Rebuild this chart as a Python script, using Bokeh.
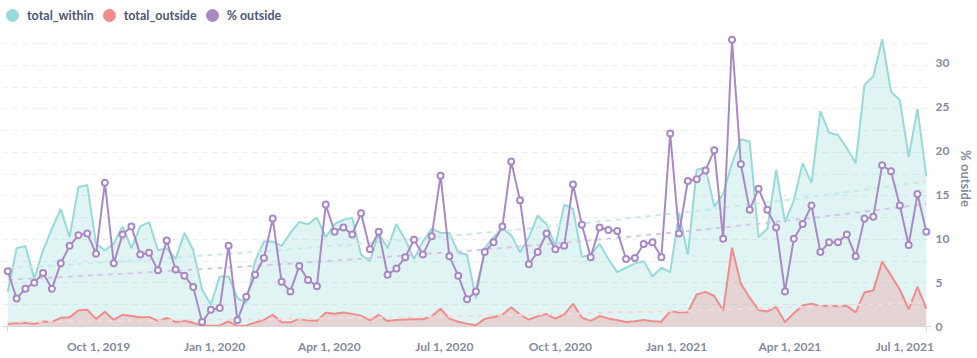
import numpy as np
import pandas as pd
from bokeh.plotting import figure
from bokeh.layouts import column
from bokeh.models import Range1d, LinearAxis, FixedTicker, Grid, Legend, LegendItem
from bokeh.embed import file_html
from bokeh.resources import INLINE

# ---------------- data ----------------
first_week = "2019-07-21"
n_weeks = 105
weeks = pd.date_range(first_week, periods=n_weeks, freq="7D")

total_within = [
    16, 36, 37, 22, 35, 45, 54, 41, 64, 65,
    38, 35, 38, 46, 36, 46, 48, 35, 36, 31,
    43, 35, 17, 10, 23, 23, 13, 11, 30, 39,
    39, 37, 43, 48, 47, 50, 41, 47, 49, 50,
    33, 30, 43, 36, 47, 40, 31, 39, 45, 43,
    43, 34, 33, 13, 36, 41, 45, 42, 34, 41,
    51, 47, 37, 56, 54, 32, 33, 38, 31, 25,
    27, 29, 30, 23, 27, 25, 52, 33, 72, 73,
    55, 61, 75, 86, 85, 41, 45, 72, 48, 58,
    75, 66, 99, 89, 88, 82, 75, 111, 115, 132,
    108, 104, 78, 100, 69,
]
total_outside = [
    1.3, 1.5, 1.7, 1.2, 2.3, 2.1, 4.0, 4.2, 7.5, 7.7,
    3.5, 6.8, 3.0, 5.4, 4.8, 4.2, 4.4, 2.6, 3.9, 2.1,
    2.6, 1.7, 0.3, 0.3, 0.5, 2.4, 0.1, 0.5, 1.8, 3.0,
    5.4, 2.1, 1.9, 3.5, 2.7, 2.6, 6.3, 5.9, 6.4, 5.8,
    5.0, 2.8, 5.3, 2.5, 3.0, 3.2, 3.3, 3.3, 4.7, 8.2,
    3.6, 2.2, 1.3, 0.6, 3.5, 4.4, 5.4, 8.8, 5.5, 3.2,
    4.7, 5.7, 3.6, 5.6, 10.4, 4.1, 2.6, 4.8, 3.7, 2.9,
    2.1, 2.4, 3.0, 2.4, 2.2, 7.1, 6.4, 6.6, 14.7, 15.9,
    14.0, 7.3, 36.2, 19.7, 13.2, 7.6, 6.9, 9.0, 2.0, 6.1,
    9.7, 10.5, 9.3, 9.5, 9.3, 9.5, 6.5, 15.7, 16.5, 29.9,
    23.5, 17.0, 7.9, 18.2, 8.2,
]
pct_outside = [
    6.3, 3.2, 4.3, 5.0, 6.1, 4.3, 7.2, 9.2, 10.4, 10.6,
    8.3, 16.4, 7.2, 10.5, 11.4, 8.2, 8.4, 6.4, 9.8, 6.5,
    5.8, 4.5, 0.5, 1.9, 2.1, 9.2, 0.7, 3.4, 5.9, 7.8,
    12.3, 5.1, 4.0, 6.9, 5.3, 4.6, 13.9, 10.8, 11.3, 10.5,
    12.9, 8.8, 10.8, 5.9, 6.6, 7.9, 9.9, 8.2, 10.3, 17.2,
    8.0, 5.8, 3.1, 4.0, 8.5, 9.6, 11.4, 18.8, 14.4, 7.1,
    8.5, 10.6, 8.8, 9.2, 16.2, 11.6, 7.9, 11.3, 11.0, 10.9,
    7.7, 7.8, 9.4, 9.6, 7.9, 22.0, 10.6, 16.6, 16.8, 17.8,
    20.1, 10.0, 32.7, 18.5, 13.3, 15.7, 13.3, 11.3, 4.0, 10.0,
    11.7, 13.8, 8.5, 9.6, 9.6, 10.5, 8.0, 12.3, 12.5, 18.4,
    17.7, 13.8, 9.3, 15.1, 10.8,
]
# trend lines (as drawn in the reference), sampled at these week indices
trend_idx = [0, 13, 26, 39, 52, 65, 78, 91, 104]
trend_within = [26.8, 30.0, 33.7, 37.7, 42.3, 47.4, 53.1, 59.5, 66.7]
trend_outside = [2.1, 2.6, 3.2, 3.9, 4.8, 6.0, 7.4, 9.1, 11.2]
trend_pct = [5.33, 6.01, 6.78, 7.65, 8.62, 9.73, 10.97, 12.37, 13.96]

series_names = ["total_within", "total_outside", "% outside"]
tick_dates = ["2019-10-01", "2020-01-01", "2020-04-01", "2020-07-01",
              "2020-10-01", "2021-01-01", "2021-04-01", "2021-07-01"]
tick_labels = ["Oct 1, 2019", "Jan 1, 2020", "Apr 1, 2020", "Jul 1, 2020",
               "Oct 1, 2020", "Jan 1, 2021", "Apr 1, 2021", "Jul 1, 2021"]
pct_ticks = [0, 5, 10, 15, 20, 25, 30]
count_grid = [10, 20, 30, 40, 50, 60, 70, 80, 90, 100, 110, 120, 130]

# ---------------- styles ----------------
TEAL = "#98D9D9"
RED = "#EF8C8C"
PURPLE = "#A989C5"
TEAL_TREND = "#C6EAEA"
RED_TREND = "#F6DADA"
PURPLE_TREND = "#D6C7E5"
TICK_COLOR = "#858B9C"
LEGEND_COLOR = "#4C5773"
GRID_COLOR = "#E9ECEF"
AXIS_COLOR = "#D8D8D8"
FONT = "Lato"

epoch = pd.Timestamp("1970-01-01")
def to_ms(ts):
    return ((ts - epoch) // pd.Timedelta(milliseconds=1))

x = np.asarray(to_ms(weeks), dtype=float)
week_ms = 7 * 86400000.0
x_start = x[0] - 0.5975 * week_ms
x_end = x[-1] + 0.586 * week_ms
tick_ms = [float(to_ms(pd.Timestamp(d))) for d in tick_dates]
trend_x = x[trend_idx]

count_top = 136.0
pct_top = 33.75

# ---------------- legend strip ----------------
leg = figure(width=977, height=30, output_backend="svg", toolbar_location=None,
             x_axis_type=None, y_axis_type=None, x_range=Range1d(0, 1), y_range=Range1d(0, 1),
             min_border_left=0, min_border_top=0, min_border_right=0, min_border_bottom=0)
leg.outline_line_color = None
leg.grid.visible = False
nan = np.array([np.nan])
d1 = leg.scatter(x=nan, y=nan, marker="circle", size=12, fill_color=TEAL, line_color=TEAL)
d2 = leg.scatter(x=nan, y=nan, marker="circle", size=12, fill_color=RED, line_color=RED)
d3 = leg.scatter(x=nan, y=nan, marker="circle", size=12, fill_color=PURPLE, line_color=PURPLE)
legend = Legend(items=[LegendItem(label=series_names[0], renderers=[d1]),
                       LegendItem(label=series_names[1], renderers=[d2]),
                       LegendItem(label=series_names[2], renderers=[d3])],
                location=(-5, 0), orientation="horizontal",
                glyph_width=30, glyph_height=30, label_standoff=-2, spacing=-3,
                padding=0, margin=0, border_line_color=None, background_fill_alpha=0,
                label_text_font=FONT, label_text_font_style="bold",
                label_text_font_size="12.5px", label_text_color=LEGEND_COLOR)
leg.add_layout(legend, "center")

# ---------------- main chart ----------------
p = figure(width=977, height=328, output_backend="svg", toolbar_location=None,
           x_axis_type=None, y_axis_type=None,
           x_range=Range1d(x_start, x_end), y_range=Range1d(0, count_top),
           min_border_left=2, min_border_top=0, min_border_right=42, min_border_bottom=32)
p.outline_line_color = None
p.background_fill_color = "white"
p.border_fill_color = "white"
p.extra_y_ranges = {"pct": Range1d(0, pct_top)}

p.add_layout(Grid(dimension=1, ticker=FixedTicker(ticks=count_grid),
                  grid_line_color=GRID_COLOR, grid_line_dash="5 5", grid_line_width=1))

p.varea(x=x, y1=0, y2=total_within, fill_color=TEAL, fill_alpha=0.3)
p.varea(x=x, y1=0, y2=total_outside, fill_color=RED, fill_alpha=0.3)
p.line(x=x, y=total_within, line_color=TEAL, line_width=2)
p.line(x=x, y=total_outside, line_color=RED, line_width=2)

p.line(x=trend_x, y=trend_within, line_color=TEAL_TREND, line_width=2, line_dash="5 5")
p.line(x=trend_x, y=trend_outside, line_color=RED_TREND, line_width=2, line_dash="5 5")
p.line(x=trend_x, y=trend_pct, line_color=PURPLE_TREND, line_width=2, line_dash="5 5",
       y_range_name="pct")

p.line(x=x, y=pct_outside, line_color=PURPLE, line_width=2, y_range_name="pct")
p.scatter(x=x, y=pct_outside, size=6, marker="circle", fill_color="white",
          line_color=PURPLE, line_width=2, y_range_name="pct")

ax_x = LinearAxis(ticker=FixedTicker(ticks=tick_ms, minor_ticks=[x[0], x[-1]]),
                  major_label_overrides={t: l for t, l in zip(tick_ms, tick_labels)},
                  axis_line_color=AXIS_COLOR, major_tick_line_color=None,
                  minor_tick_line_color=AXIS_COLOR, minor_tick_out=5, minor_tick_in=0,
                  major_tick_out=0, major_tick_in=0, major_label_standoff=7,
                  major_label_text_font=FONT, major_label_text_font_style="bold",
                  major_label_text_font_size="12px", major_label_text_color=TICK_COLOR)
p.add_layout(ax_x, "below")
ax_r = LinearAxis(y_range_name="pct", ticker=FixedTicker(ticks=pct_ticks), axis_label=series_names[2],
                  axis_line_color=None, major_tick_line_color=None, minor_tick_line_color=None,
                  major_tick_out=0, major_tick_in=0, major_label_standoff=4, axis_label_standoff=6,
                  major_label_text_font=FONT, major_label_text_font_style="bold",
                  major_label_text_font_size="12px", major_label_text_color=TICK_COLOR,
                  axis_label_text_font=FONT, axis_label_text_font_style="bold",
                  axis_label_text_font_size="13px", axis_label_text_color=TICK_COLOR)
p.add_layout(ax_r, "right")

layout = column(leg, p, spacing=0)
open("out.html", "w").write(file_html(layout, INLINE))
